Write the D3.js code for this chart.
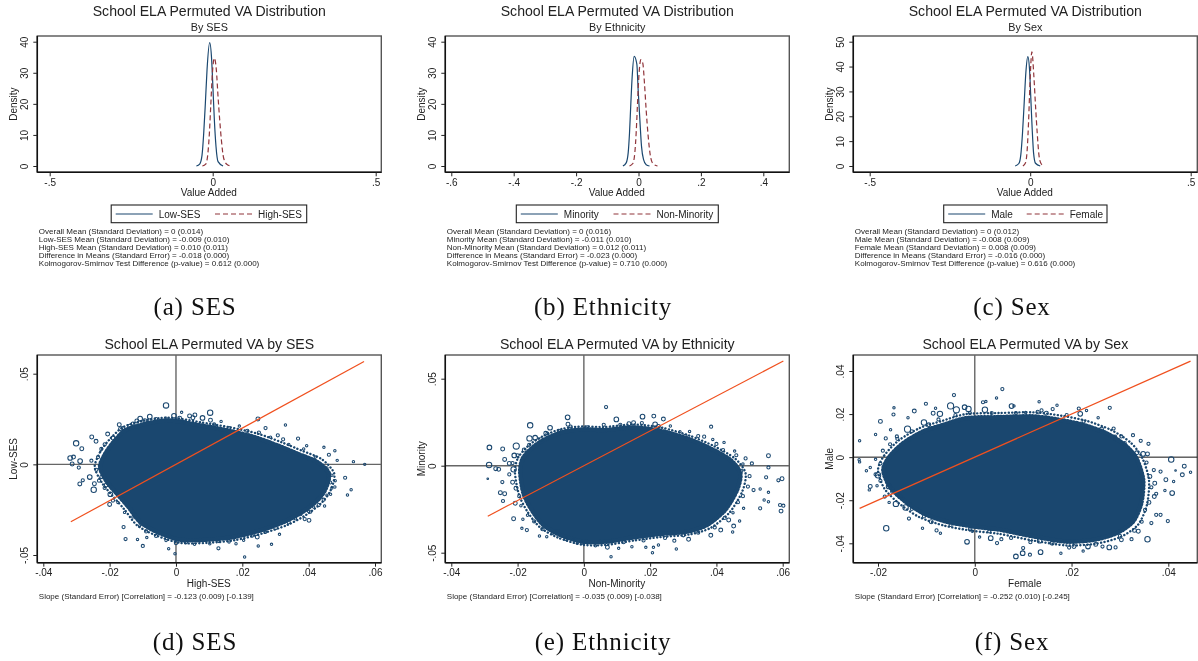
<!DOCTYPE html>
<html>
<head>
<meta charset="utf-8">
<script src="https://cdn.jsdelivr.net/npm/d3@7"></script>
<style>
html, body { margin: 0; padding: 0; background: #fff; }
svg { display: block; filter: blur(0.35px); }
text { font-family: "Liberation Sans", Arial, sans-serif; fill: #222; }
.cap { font-family: "Liberation Serif", serif; fill: #111; letter-spacing: 0.85px; }
</style>
</head>
<body>
<svg id="fig" width="1198" height="661"></svg>
<script>
const navy = '#1a476f', maroon = '#90353b', orange = '#f0501e';

// density curves: value added, density
const lowSesX = [-.0501,-.0399,-.0327,-.0276,-.0225,-.0174,-.0092,-.0031,.001,.0051,.0102,.0164,.0317];
const lowSesY = [0,.6,3.5,10.5,20.2,30.9,39.7,34,24.5,14.8,6.2,1.4,0];
const highSesX = [-.0317,-.0215,-.0153,-.0102,-.0061,-.001,.0051,.0112,.0164,.0215,.0266,.0337,.044,.0562];
const highSesY = [0,.6,3.5,10.5,19.1,29.8,34.7,30.9,22.3,14.8,8.4,2.5,.5,0];
const minorityX = [-.05,-.0395,-.033,-.0288,-.0246,-.0203,-.0139,-.0053,-.0011,.0043,.0096,.016,.0246,.0353];
const minorityY = [0,1,4.3,10.6,20,28.7,35.3,32.8,24.5,15,6.4,2.1,.4,0];
const nonMinorityX = [-.0288,-.0182,-.0118,-.0075,-.0032,.0011,.0075,.0139,.0192,.0246,.031,.0374,.046,.0609];
const nonMinorityY = [0,.8,4.2,10.6,20,28.7,34.2,33,26.5,18,9.6,3.7,.8,0];
const maleX = [-.0467,-.0353,-.0291,-.0239,-.0187,-.0135,-.0073,-.0021,.0021,.0062,.0104,.0166,.0312];
const maleY = [0,1,4.7,13.4,25.5,37.6,44,38.9,26.8,14.8,5.4,1.1,0];
const femaleX = [-.0228,-.0145,-.0093,-.0052,-.001,.0052,.0114,.0166,.0218,.027,.0332,.0426];
const femaleY = [0,1.3,6.7,17.4,32.2,45.9,36.2,24.2,13.4,4.7,1.1,0];

// scatter: edge of the solid mass of schools, [x, y]
const sesMass = [[-.0229,-.0015],[-.0213,.0059],[-.0188,.0123],[-.0153,.0188],[-.0098,.0221],[-.0047,.0239],[0,.0239],[.0074,.0215],[.0154,.0188],[.0235,.0151],[.0305,.0105],[.0366,.0059],[.0426,.0013],[.0461,-.0051],[.0451,-.0134],[.0426,-.0199],[.0381,-.0263],[.0325,-.0318],[.0255,-.0364],[.0174,-.0401],[.0094,-.0416],[.0013,-.0416],[-.0057,-.0373],[-.0108,-.0318],[-.0143,-.0235],[-.0178,-.0162],[-.0208,-.0097]];
const ethMass = [[-.0192,-.0034],[-.0184,.0042],[-.0152,.0109],[-.0112,.0157],[-.0061,.0195],[-.0001,.0209],[.0059,.0205],[.015,.022],[.023,.0201],[.0311,.0157],[.0381,.01],[.0442,.0033],[.0472,-.0044],[.0462,-.014],[.0426,-.0255],[.0371,-.0341],[.0311,-.0379],[.023,-.0393],[.015,-.0412],[.0069,-.0437],[-.0001,-.0437],[-.0071,-.0398],[-.0122,-.0341],[-.0157,-.0255],[-.0182,-.0159]];
const sexMass = [[-.0189,-.0059],[-.0176,.0003],[-.0148,.0065],[-.0107,.0119],[-.0065,.015],[-.0017,.0181],[.0052,.0186],[.0121,.0189],[.0176,.0173],[.0224,.015],[.0272,.0111],[.031,.0057],[.0334,-.0005],[.0348,-.0105],[.0344,-.0214],[.0327,-.0299],[.0293,-.0353],[.0245,-.0384],[.0189,-.0392],[.0121,-.0368],[.0052,-.0337],[-.0003,-.0322],[-.0059,-.0299],[-.0107,-.026],[-.0148,-.0198],[-.0176,-.0136]];

// scatter: speckled band just outside the mass, [x, y]
const sesFringe = [[-.0245,-.0015],[-.0228,.007],[-.02,.0138],[-.016,.0205],[-.0105,.0238],[-.0047,.0255],[0,.0255],[.0074,.0232],[.016,.0205],[.0245,.017],[.0318,.0122],[.038,.0075],[.044,.0028],[.0477,-.005],[.0467,-.014],[.044,-.021],[.0393,-.0278],[.0335,-.0335],[.0262,-.038],[.0178,-.0418],[.0096,-.0433],[.0012,-.0433],[-.0063,-.039],[-.0118,-.0335],[-.0155,-.025],[-.0192,-.0172],[-.0222,-.0105]];
const ethFringe = [[-.0208,-.0036],[-.0198,.0048],[-.0163,.0122],[-.012,.0173],[-.0065,.0212],[-.0001,.0226],[.006,.0222],[.0152,.0237],[.0236,.0218],[.032,.0172],[.0392,.0113],[.0457,.004],[.0488,-.0044],[.0478,-.0148],[.044,-.0268],[.0382,-.0358],[.0316,-.0396],[.0232,-.041],[.0151,-.043],[.0069,-.0455],[-.0002,-.0455],[-.0076,-.0415],[-.0132,-.0355],[-.017,-.0265],[-.0196,-.0165]];
const sexFringe = [[-.02,-.006],[-.0187,.0008],[-.0157,.0078],[-.0113,.0136],[-.0068,.0168],[-.0018,.02],[.0052,.0205],[.0122,.0208],[.018,.0192],[.0232,.0168],[.0282,.0126],[.0322,.0068],[.0346,-.0003],[.036,-.0105],[.0356,-.022],[.0338,-.0312],[.0302,-.037],[.025,-.0402],[.019,-.041],[.012,-.0387],[.005,-.0356],[-.0005,-.0342],[-.0063,-.0318],[-.0115,-.0278],[-.0158,-.0212],[-.0187,-.0145]];

// scatter: schools outside the mass, [x, y, weight]
const sesPoints = [[-.003,.0325,3],[-.0006,.0268,2.5],[.0017,.0287,1],[.0011,.0254,2],[.0041,.0267,2],[.0057,.0272,2],[.0051,.0257,2],[.008,.0256,2.5],[.0103,.0285,3],[.0104,.0243,2],[.0136,.0237,1],[.0247,.025,2],[.033,.0217,1],[-.0079,.0263,2.5],[-.0108,.0252,2.5],[-.0118,.0239,2],[-.0094,.0241,2],[-.0171,.0219,2],[-.0167,.0197,2],[-.0206,.0167,2],[-.0254,.0151,2],[-.0241,.0127,2],[-.0301,.0116,3],[-.0284,.0086,2],[-.0319,.0035,2.5],[-.0309,.004,2],[-.0313,.0002,2],[-.0289,.0018,2.5],[-.0293,-.0018,1.5],[-.029,-.0108,2],[-.0281,-.0088,1.5],[-.026,-.007,2.5],[-.0246,-.0107,2],[-.0248,-.014,3],[-.0198,-.0165,2.5],[-.021,-.0114,2],[-.02,-.0221,2],[-.0158,-.0346,1.5],[-.0152,-.0412,1.5],[-.0116,-.0414,1],[-.01,-.045,1.5],[-.0088,-.0404,1],[-.0022,-.0465,1],[-.0003,-.0493,1],[.0128,-.0463,1.5],[.0207,-.0511,1],[.0248,-.045,1],[.0288,-.0441,1],[.0056,-.0441,1],[.0102,-.0438,1],[.016,-.0428,1],[.0181,-.0438,1],[.0204,-.0419,1],[.0245,-.0401,2],[.0312,-.0386,1],[.0401,-.0309,2],[.0388,-.0302,1.5],[.0406,-.0263,1],[.0448,-.023,1],[.0466,-.0165,1],[.0479,-.0125,1],[.051,-.0074,1.5],[.0517,-.0169,1],[.0528,-.014,1],[.0535,.0015,1],[.0569,0,1],[.0479,.0075,1],[.0446,.0094,1],[.0394,.0103,1],[.0368,.0142,1.5],[.0323,.0138,1.5],[.0307,.016,1.5],[.027,.02,1.5],[.0191,.0211,1],[.0461,.0053,1.5],[.0486,.0022,1],
    [.042,.004,1],[.044,-.001,1.5],[.0455,-.002,1],[.047,-.006,1],[.048,-.009,1],[.0465,-.01,1.5],[.047,-.013,1],[.0455,-.017,1],[.0445,-.0195,1.5],[.043,-.0225,1.5],[.0415,-.0235,1],[.04,-.026,1],[.0375,-.0275,1.5],[.036,-.03,1],[.034,-.032,1.5],[.03,-.035,2],[.027,-.0375,1],[.023,-.0395,1],
    [-.0235,.004,1.5],[-.0225,.0085,1.5],[-.0215,.011,1.5],[-.019,.0145,2],[-.016,.02,1.5],[-.014,.021,2],[-.013,.0225,1.5],[-.0255,.002,1.5],[-.024,-.003,1.5],[-.0225,-.007,1.5],[-.0232,-.009,1.5],[-.0215,-.013,1.5],[-.019,-.02,1.5],[-.0175,-.021,1],[-.0155,-.0265,1],[-.013,-.029,1],[-.011,-.034,1],[-.009,-.037,1.5],[-.006,-.0395,1.5],[-.003,-.042,1],[0,-.0435,1.5],[.003,-.043,1.5],[.013,-.0425,1],
    [-.006,.025,1.5],[-.003,.0255,1],[.0025,.0235,1.5],[.0115,.022,1.5],[.016,.02,1.5],[.0215,.0185,1.5],[.025,.0175,1.5],[.0285,.015,1],[.034,.011,1],[.0385,.0085,1]];
const ethPoints = [[.0067,.0337,1.5],[-.0049,.0278,2.5],[-.0048,.0238,2],[.0098,.0266,2.5],[.0136,.0241,2],[.015,.0247,2],[.0177,.0282,2.5],[.0211,.0285,2],[.024,.0268,2],[.0215,.0238,2.5],[.0384,.0224,1.5],[-.0162,.0232,3],[-.0164,.0157,3],[-.0147,.0161,2.5],[-.0102,.0218,2.5],[-.0115,.0186,2],[-.0285,.0105,2.5],[-.0245,.0096,2],[-.0204,.0113,3.5],[-.021,.0059,2.5],[-.0286,.0004,3],[-.0266,-.0017,2],[-.0257,-.0021,2],[-.0239,.0036,2],[-.0225,.0013,2],[-.0212,-.0021,3],[-.029,-.0075,.5],[-.0246,-.0094,1.5],[-.0252,-.0155,2],[-.0239,-.0161,2],[-.0244,-.0203,1.5],[-.0207,-.0216,2],[-.0212,-.0305,2],[-.0184,-.0308,1],[-.0187,-.036,1],[-.0172,-.037,1.5],[-.0134,-.0404,1],[-.0112,-.0408,1],[-.0079,-.0379,1.5],[-.0031,-.0427,1],[-.0006,-.0446,1],[.0071,-.0469,2],[.0105,-.0475,1],[.0082,-.0523,1],[.0145,-.0466,1],[.0187,-.0469,1],[.021,-.0469,1],[.0207,-.05,1],[.0225,-.0456,1],[.0279,-.0479,1],[.0273,-.0431,1.5],[.0316,-.0423,2],[.0383,-.04,2],[.0413,-.037,2],[.0449,-.0381,1],[.0452,-.0347,2],[.0437,-.0312,2],[.047,-.0318,1],[.0482,-.0245,1],[.0532,-.0245,1.5],[.0557,-.0153,1],[.0557,-.0207,1],[.0544,-.0197,1],[.0512,-.014,1.5],[.0532,-.0134,1],[.0592,-.0226,1.5],[.0602,-.023,1.5],[.0595,-.0261,2],[.0587,-.0084,1.5],[.0598,-.0075,2],[.0557,-.001,1.5],[.055,-.0067,1.5],[.0557,.0057,2],[.0507,.0013,1.5],[.0488,.0042,1.5],[.0455,.0084,1],[.0423,.0134,1],[.0389,.0151,1],[.0363,.0167,1.5],[.0306,.017,2],[.0319,.0197,1],[.0261,.0228,1],
    [-.0215,.0015,1.5],[-.02,.006,1.5],[-.018,.009,2],[-.0165,.012,1.5],[-.013,.015,2],[-.011,.0185,1.5],[-.0075,.02,1.5],[-.004,.0225,1.5],[-.0225,-.005,1.5],[-.0215,-.0095,2],[-.0205,-.013,2],[-.0195,-.0175,1.5],[-.019,-.023,1],[-.017,-.0285,1],[-.015,-.032,1.5],[-.0125,-.0365,1.5],[-.0095,-.039,1],[-.0055,-.042,1.5],[-.002,-.0445,1],[.0035,-.046,1],[.012,-.044,1.5],[.018,-.043,1.5],[.0245,-.0415,1.5],[.03,-.04,1.5],[.0345,-.0385,1.5],[.0395,-.0355,1.5],[.0425,-.03,1.5],[.045,-.027,1],[.0465,-.021,1.5],[.048,-.0175,1.5],[.0495,-.012,1.5],[.05,-.006,1.5],[.0475,-.003,1.5],[.048,.001,1],[.046,.006,1.5],[.042,.009,1.5],[.04,.0125,1.5],[.0345,.017,1.5],[.029,.0195,1],[.0225,.0225,2],[.0175,.0245,1.5],[.011,.0235,1.5],[.006,.0235,1.5],[.001,.022,1.5]];
const sexPoints = [[-.0238,.0076,1],[-.0239,-.0012,1],[-.0238,-.0022,1],[-.0224,-.0063,1],[-.0216,-.0048,1],[-.0216,-.0136,2],[-.0218,-.0152,1],[-.02,-.0084,3],[-.0202,-.0133,1],[-.0205,.0105,1],[-.0195,.0166,2],[-.0167,.0229,1],[-.0168,.0198,1.5],[-.0174,.0127,1],[-.0184,.0087,1.5],[-.0161,.0096,1.5],[-.0139,.013,3.5],[-.0138,.0183,1],[-.0125,.0214,2],[-.0101,.0248,1.5],[-.0105,.0161,3],[-.0086,.0204,2],[-.0081,.0227,1],[-.0072,.0201,3],[-.005,.0238,3.5],[-.0043,.0288,1.5],[-.0038,.022,3.5],[-.0021,.0232,2.5],[-.0013,.0224,3],[.0017,.0255,1.5],[.0023,.0258,1],[.0045,.0275,1],[.0057,.0316,1.5],[.0021,.022,3],[.0076,.0237,2.5],[.0081,.0238,1],[.0105,.0207,1],[.0133,.0257,1],[.0138,.0217,1.5],[.0148,.0204,2],[.0161,.0223,1.5],[.017,.0241,1],[.0215,.0226,1.5],[.0231,.0217,1],[.0218,.0201,2.5],[.0279,.0229,1.5],[.0255,.0183,1],[.0287,.0133,1.5],[.0303,.0096,1.5],[.0327,.0102,1.5],[.0343,.0076,1.5],[.0359,.0062,1.5],[.0348,.0015,2.5],[.0357,.0015,2],[.0406,-.0011,3],[.0433,-.0042,2],[.0429,-.0082,2],[.0415,-.0062,.5],[.0446,-.007,1],[.0411,-.0113,1],[.0395,-.0105,2],[.0408,-.0167,2.5],[.0393,-.0155,1],[.0384,-.0067,1.5],[.0372,-.0121,2],[.0371,-.0183,2],[.0399,-.0297,1.5],[.0384,-.0268,1.5],[.0375,-.0268,1.5],[.0365,-.0306,1.5],[.0357,-.0381,3],[.0338,-.0344,2],[.0324,-.0381,1.5],[.0303,-.0384,2],[.0291,-.0419,1.5],[.0278,-.0419,2.5],[.0264,-.0415,1.5],[.0234,-.0415,2.5],[.0224,-.0436,1],[.0205,-.0415,2],[.0178,-.0446,1],[.0136,-.0441,2.5],[.0134,-.0388,2.5],[.0114,-.0453,1.5],[.0099,-.0446,2.5],[.01,-.0422,1.5],[.0085,-.0461,2.5],[.0055,-.0381,1.5],[.0033,-.0376,2.5],[.0046,-.0399,1.5],[-.0016,-.0393,2.5],[.001,-.0371,1],[-.0005,-.0344,1],[-.0071,-.0353,1],[-.0079,-.034,1.5],[-.0108,-.033,1],[-.0183,-.033,3],[-.0136,-.0285,1.5],[-.0163,-.0217,3],[-.0143,-.0234,3],[-.0177,-.021,1],[-.0186,-.0183,1.5],[-.0178,-.0136,2.5],[-.0155,-.0183,2],
    [-.0195,-.003,1.5],[-.0205,-.001,1],[-.019,.003,1.5],[-.0175,.006,1.5],[-.016,.0085,1.5],[-.013,.012,1.5],[-.0095,.015,2],[-.0075,.0175,1.5],[-.004,.0195,1.5],[-.0205,-.008,1.5],[-.0195,-.011,1.5],[-.017,-.016,2],[-.015,-.019,1.5],[-.013,-.024,1.5],[-.0105,-.0275,1.5],[-.009,-.03,2],[-.005,-.0315,1.5],[-.001,-.0335,1.5],[.003,-.0345,1.5],[.0075,-.0375,1.5],[.0115,-.0395,1.5],[.016,-.04,2],[.0195,-.042,1.5],[.025,-.0405,2],[.03,-.0365,1.5],[.033,-.034,2],[.0345,-.03,1.5],[.0352,-.0245,1.5],[.036,-.021,2],[.0375,-.017,1.5],[.0365,-.014,1.5],[.0362,-.009,2],[.037,-.006,1.5],[.0355,-.0025,1.5],[.0335,.002,2],[.031,.0065,1.5],[.029,.0095,1.5],[.0262,.013,2],[.0225,.0165,1.5],[.019,.0195,1.5],[.013,.021,1.5],[.0085,.0205,1.5],[.0035,.0205,1.5],[-.001,.0205,1.5]];

// y = x reference lines, ends at the data range
const sesLine = [-.0317,.0567];
const ethLine = [-.029,.0602];
const sexLine = [-.0238,.0446];

// tick labels
const sesDensityTicks = ['-.5','0','.5'];
const ethDensityTicks = ['-.6','-.4','-.2','0','.2','.4'];
const sexDensityTicks = ['-.5','0','.5'];
const density40Ticks = ['0','10','20','30','40'];
const density50Ticks = ['0','10','20','30','40','50'];
const sesScatterX = ['-.04','-.02','0','.02','.04','.06'];
const sesScatterY = ['-.05','0','.05'];
const sexScatterX = ['-.02','0','.02','.04'];
const sexScatterY = ['-.04','-.02','0','.02','.04'];

// notes under the panels
const sesNotes = ['Overall Mean (Standard Deviation) = 0 (0.014)','Low-SES Mean (Standard Deviation) = -0.009 (0.010)','High-SES Mean (Standard Deviation) = 0.010 (0.011)','Difference in Means (Standard Error) = -0.018 (0.000)','Kolmogorov-Smirnov Test Difference (p-value) = 0.612 (0.000)'];
const ethNotes = ['Overall Mean (Standard Deviation) = 0 (0.016)','Minority Mean (Standard Deviation) = -0.011 (0.010)','Non-Minority Mean (Standard Deviation) = 0.012 (0.011)','Difference in Means (Standard Error) = -0.023 (0.000)','Kolmogorov-Smirnov Test Difference (p-value) = 0.710 (0.000)'];
const sexNotes = ['Overall Mean (Standard Deviation) = 0 (0.012)','Male Mean (Standard Deviation) = -0.008 (0.009)','Female Mean (Standard Deviation) = 0.008 (0.009)','Difference in Means (Standard Error) = -0.016 (0.000)','Kolmogorov-Smirnov Test Difference (p-value) = 0.616 (0.000)'];

const svg = d3.select('#fig');
const num = s => +s.replace('.', '0.');
const axisFont = 10;

function frame(g, x0, x1, y0, y1) {
    g.append('rect')
        .attr('x', x0).attr('y', y0)
        .attr('width', x1 - x0).attr('height', y1 - y0)
        .attr('fill', 'none').attr('stroke', '#555').attr('stroke-width', 1.4);
}

function axes(g, x, y, xTicks, yTicks, x0, x1, y0, y1, xTitle, yTitle, xTickY, xTitleY) {
    let xAxis = d3.axisBottom(x)
        .tickValues(xTicks.map(num))
        .tickFormat((d, i) => xTicks[i])
        .tickSize(4).tickSizeOuter(0);
    let yAxis = d3.axisLeft(y)
        .tickValues(yTicks.map(num))
        .tickFormat((d, i) => yTicks[i])
        .tickSize(4).tickSizeOuter(0);

    let gx = g.append('g').attr('transform', `translate(0,${y1})`).call(xAxis);
    gx.select('.domain').attr('d', `M${x0},0H${x1}`).attr('stroke', '#111').attr('stroke-width', 1.5);
    gx.selectAll('.tick line').attr('stroke', '#222');
    gx.selectAll('.tick text')
        .attr('y', xTickY - y1).attr('dy', 0)
        .attr('font-size', axisFont).attr('font-family', null);

    let gy = g.append('g').attr('transform', `translate(${x0},0)`).call(yAxis);
    gy.select('.domain').attr('d', `M0,${y0}V${y1}`).attr('stroke', '#111').attr('stroke-width', 1.5);
    gy.selectAll('.tick line').attr('stroke', '#222');
    gy.selectAll('.tick text')
        .attr('x', 0).attr('dy', 0)
        .attr('text-anchor', 'middle')
        .attr('font-size', axisFont).attr('font-family', null)
        .attr('transform', 'translate(-9.5,0) rotate(-90)');

    g.append('text')
        .attr('x', (x0 + x1) / 2).attr('y', xTitleY)
        .attr('text-anchor', 'middle').attr('font-size', axisFont)
        .attr('dx', -0.5)
        .text(xTitle);
    g.append('text')
        .attr('transform', `translate(${x0 - 20},${(y0 + y1) / 2}) rotate(-90)`)
        .attr('text-anchor', 'middle').attr('font-size', axisFont)
        .text(yTitle);
}

function titleText(g, cx, y, size, s) {
    g.append('text')
        .attr('x', cx).attr('y', y)
        .attr('text-anchor', 'middle').attr('font-size', size)
        .text(s);
}

function drawDensity(o) {
    let g = svg.append('g');
    let x0 = o.left, x1 = o.left + 344, y0 = 36, y1 = 172.3;
    let x = d3.scaleLinear().domain(o.xDomain).range(o.xRange);
    let y = d3.scaleLinear().domain(o.yDomain).range([166, 41.7]);
    let line = d3.line().x(d => x(d[0])).y(d => y(d[1])).curve(d3.curveMonotoneX);

    frame(g, x0, x1, y0, y1);
    g.append('path')
        .attr('d', line(d3.zip(o.xa, o.ya)))
        .attr('fill', 'none').attr('stroke', navy).attr('stroke-width', 1.2);
    g.append('path')
        .attr('d', line(d3.zip(o.xb, o.yb)))
        .attr('fill', 'none').attr('stroke', maroon).attr('stroke-width', 1.2)
        .attr('stroke-dasharray', '5 3');
    axes(g, x, y, o.xTicks, o.yTicks, x0, x1, y0, y1, 'Value Added', 'Density', 186, 196);

    titleText(g, o.left + 172, 16, 14.1, 'School ELA Permuted VA Distribution');
    titleText(g, o.left + 172, 31, 10.8, o.sub);

    // legend
    let lg = o.legend;
    g.append('rect')
        .attr('x', lg.x0).attr('y', 205)
        .attr('width', lg.x1 - lg.x0).attr('height', 17.7)
        .attr('fill', '#fff').attr('stroke', '#222').attr('stroke-width', 1.1);
    g.append('line')
        .attr('x1', lg.x0 + 4.5).attr('x2', lg.x0 + 41.5)
        .attr('y1', 214).attr('y2', 214)
        .attr('stroke', navy).attr('stroke-width', 1.1);
    g.append('line')
        .attr('x1', lg.redX).attr('x2', lg.redX + 37)
        .attr('y1', 214).attr('y2', 214)
        .attr('stroke', maroon).attr('stroke-width', 1.1)
        .attr('stroke-dasharray', '5 3');
    g.append('text').attr('x', lg.x0 + 47.5).attr('y', 218).attr('font-size', axisFont).text(o.names[0]);
    g.append('text').attr('x', lg.redX + 43).attr('y', 218).attr('font-size', axisFont).text(o.names[1]);

    o.notes.forEach((t, i) => {
        g.append('text')
            .attr('x', o.left + 1.5).attr('y', 234 + i * 8)
            .attr('font-size', 8)
            .text(t);
    });
}

function drawScatter(o) {
    let g = svg.append('g');
    let x0 = o.left, x1 = o.left + 344, y0 = 355, y1 = 562.7;
    let x = d3.scaleLinear().domain(o.xDomain).range(o.xRange);
    let y = d3.scaleLinear().domain(o.yDomain).range(o.yRange);
    let r = d3.scaleLinear().domain([1, 3]).range([1.2, 2.7]);
    let edge = d3.line().x(d => x(d[0])).y(d => y(d[1])).curve(d3.curveCardinalClosed.tension(0.2));

    frame(g, x0, x1, y0, y1);

    // zero lines sit under the points
    g.append('line')
        .attr('x1', x0).attr('x2', x1).attr('y1', y(0)).attr('y2', y(0))
        .attr('stroke', o.hColor).attr('stroke-width', o.hWidth);
    g.append('line')
        .attr('x1', x(0)).attr('x2', x(0)).attr('y1', y0).attr('y2', y1)
        .attr('stroke', '#666').attr('stroke-width', 1.4);

    g.append('path')
        .attr('d', edge(o.mass))
        .attr('fill', navy).attr('stroke', navy).attr('stroke-width', 1);
    g.append('path')
        .attr('d', edge(o.mass))
        .attr('fill', 'none').attr('stroke', navy).attr('stroke-width', 4.6)
        .attr('stroke-linecap', 'round').attr('stroke-dasharray', '0.5 2.7');
    g.append('path')
        .attr('d', edge(o.fringe))
        .attr('fill', 'none').attr('stroke', navy).attr('stroke-width', 2.4)
        .attr('stroke-linecap', 'round').attr('stroke-dasharray', '0.1 3.4');

    g.selectAll('circle.pt')
        .data(o.points)
        .join('circle')
        .attr('class', 'pt')
        .attr('cx', d => x(d[0])).attr('cy', d => y(d[1]))
        .attr('r', d => r(d[2]))
        .attr('fill', 'none').attr('stroke', navy).attr('stroke-width', 1.05);

    g.append('line')
        .attr('x1', x(o.line[0])).attr('y1', y(o.line[0]))
        .attr('x2', x(o.line[1])).attr('y2', y(o.line[1]))
        .attr('stroke', orange).attr('stroke-width', 1.2);

    axes(g, x, y, o.xTicks, o.yTicks, x0, x1, y0, y1, o.xTitle, o.yTitle, 576, 587);
    titleText(g, o.left + 172, 349, 14.1, o.title);
    g.append('text')
        .attr('x', o.left + 1.5).attr('y', 599)
        .attr('font-size', 8)
        .text(o.note);
}

drawDensity({
    left: 37.3, xDomain: [-.5, .5], xRange: [49.7, 375.7], yDomain: [0, 40],
    xTicks: sesDensityTicks, yTicks: density40Ticks, sub: 'By SES',
    xa: lowSesX, ya: lowSesY, xb: highSesX, yb: highSesY,
    names: ['Low-SES', 'High-SES'], notes: sesNotes,
    legend: { x0: 111.2, x1: 306.7, redX: 215 }
});
drawDensity({
    left: 445.3, xDomain: [-.6, .4], xRange: [451.3, 763.3], yDomain: [0, 40],
    xTicks: ethDensityTicks, yTicks: density40Ticks, sub: 'By Ethnicity',
    xa: minorityX, ya: minorityY, xb: nonMinorityX, yb: nonMinorityY,
    names: ['Minority', 'Non-Minority'], notes: ethNotes,
    legend: { x0: 516.3, x1: 718.3, redX: 613.5 }
});
drawDensity({
    left: 853.3, xDomain: [-.5, .5], xRange: [869.7, 1190.7], yDomain: [0, 50],
    xTicks: sexDensityTicks, yTicks: density50Ticks, sub: 'By Sex',
    xa: maleX, ya: maleY, xb: femaleX, yb: femaleY,
    names: ['Male', 'Female'], notes: sexNotes,
    legend: { x0: 943.7, x1: 1107, redX: 1026.7 }
});

drawScatter({
    left: 37.3, xDomain: [-.04, .06], xRange: [43.3, 375], yDomain: [-.05, .05], yRange: [555, 373.7],
    xTicks: sesScatterX, yTicks: sesScatterY, xTitle: 'High-SES', yTitle: 'Low-SES',
    title: 'School ELA Permuted VA by SES',
    note: 'Slope (Standard Error) [Correlation] = -0.123 (0.009) [-0.139]',
    mass: sesMass, fringe: sesFringe, points: sesPoints, line: sesLine, hColor: '#666', hWidth: 1.4
});
drawScatter({
    left: 445.3, xDomain: [-.04, .06], xRange: [451.3, 782.7], yDomain: [-.05, .05], yRange: [552.7, 378.7],
    xTicks: sesScatterX, yTicks: sesScatterY, xTitle: 'Non-Minority', yTitle: 'Minority',
    title: 'School ELA Permuted VA by Ethnicity',
    note: 'Slope (Standard Error) [Correlation] = -0.035 (0.009) [-0.038]',
    mass: ethMass, fringe: ethFringe, points: ethPoints, line: ethLine, hColor: '#666', hWidth: 1.4
});
drawScatter({
    left: 853.3, xDomain: [-.02, .04], xRange: [878, 1168.3], yDomain: [-.04, .04], yRange: [543.3, 371],
    xTicks: sexScatterX, yTicks: sexScatterY, xTitle: 'Female', yTitle: 'Male',
    title: 'School ELA Permuted VA by Sex',
    note: 'Slope (Standard Error) [Correlation] = -0.252 (0.010) [-0.245]',
    mass: sexMass, fringe: sexFringe, points: sexPoints, line: sexLine, hColor: '#111', hWidth: 1
});

// sub-figure captions
const captions = [['(a) SES', 195, 315], ['(b) Ethnicity', 603, 315], ['(c) Sex', 1012, 315],
                  ['(d) SES', 195, 650], ['(e) Ethnicity', 603, 650], ['(f) Sex', 1012, 650]];
captions.forEach(c => {
    svg.append('text')
        .attr('class', 'cap')
        .attr('x', c[1]).attr('y', c[2])
        .attr('text-anchor', 'middle')
        .attr('font-size', 25)
        .text(c[0]);
});
</script>
</body>
</html>
